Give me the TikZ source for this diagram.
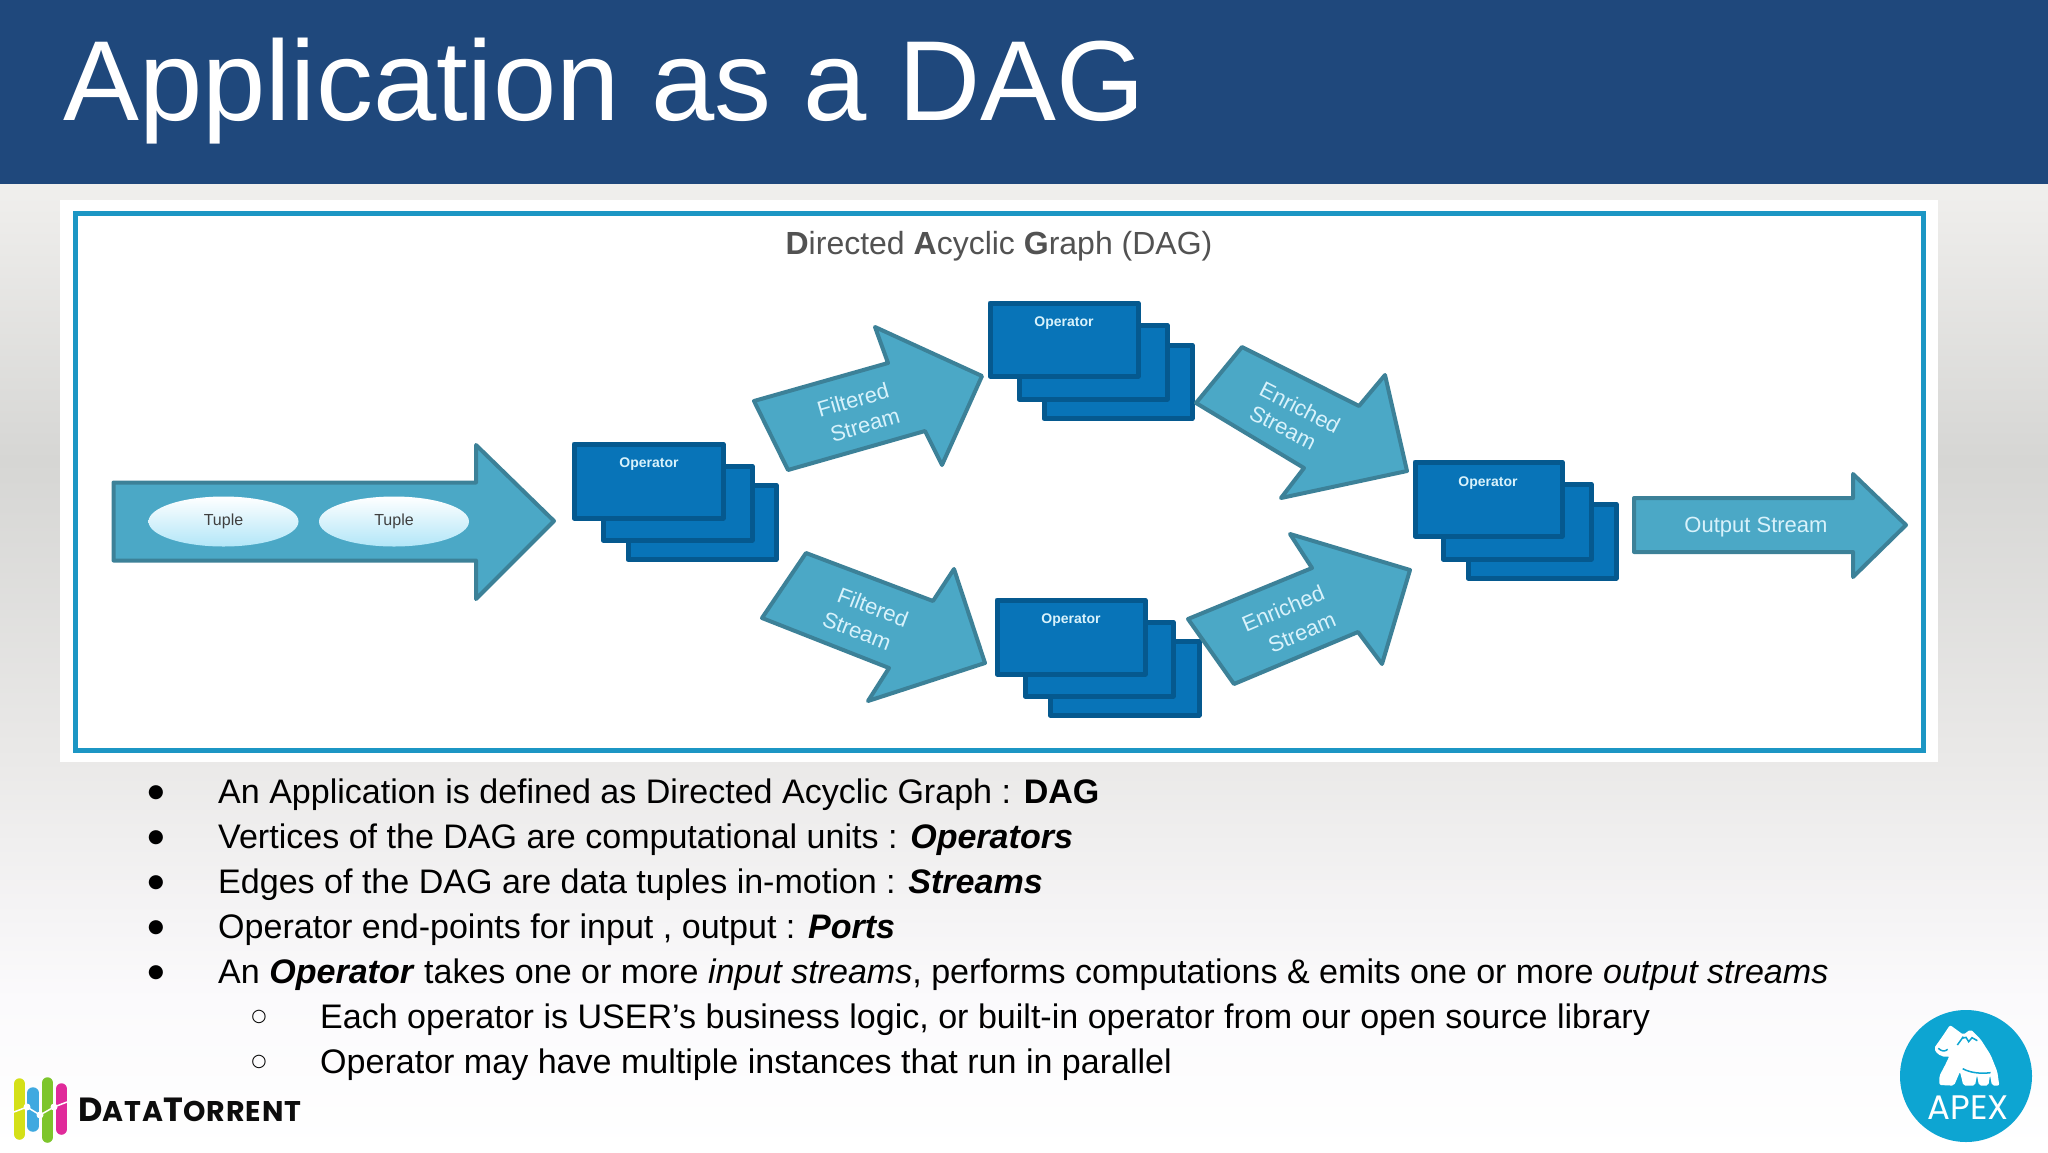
\documentclass[tikz,border=0pt]{standalone}
\usepackage{fontspec}
\setmainfont{Liberation Sans}
\newfontfamily\djv{DejaVu Sans}
\newfontfamily\pop{Poppins}
\newfontfamily\popsp[LetterSpace=3.5]{Poppins}
\usetikzlibrary{shapes.geometric}
\definecolor{hdr}{HTML}{1F487C}
\definecolor{frameblue}{HTML}{1C96C4}
\definecolor{arfill}{HTML}{4BA8C6}
\definecolor{arline}{HTML}{3C8198}
\definecolor{opfill}{HTML}{0874B8}
\definecolor{opline}{HTML}{05598F}
\definecolor{tuplelow}{HTML}{B2E6F8}
\definecolor{arlabel}{HTML}{D8F2FB}
\definecolor{apexblue}{HTML}{0DA5D2}
\definecolor{bga}{HTML}{F0EFED}
\definecolor{bgb}{HTML}{D6D6D4}
\definecolor{bgc}{HTML}{EAE9E8}
\definecolor{bgd}{HTML}{FBFAFC}
\definecolor{lgl}{HTML}{D4E018}
\definecolor{lgb}{HTML}{3FA9E0}
\definecolor{lgg}{HTML}{7DC52C}
\definecolor{lgm}{HTML}{E02A9A}
\newcommand{\fs}[1]{\fontsize{#1}{#1}\selectfont}
\tikzset{
  arrowshape/.style={fill=arfill,draw=arline,line width=4pt,line join=round},
  opbox/.style={fill=opfill,draw=opline,line width=5pt,line join=round},
  optext/.style={text=arlabel,font=\fs{14}\bfseries,inner sep=0pt},
  arrowtext/.style={text=arlabel,font=\fs{22},inner sep=0pt},
  tupleshape/.style={ellipse,minimum width=150pt,minimum height=50pt,inner sep=0pt,top color=white,bottom color=tuplelow,text=black!75,font=\fs{16}},
  bullettext/.style={anchor=base west,inner sep=0pt,text=black,font=\fs{34.05}},
  dotmark/.style={anchor=base,inner sep=0pt,text=black,font=\djv\fs{18.5}},
  ringmark/.style={anchor=base,inner sep=0pt,text=black,font=\djv\fs{17.5}},
  logobar/.style={line width=11.5pt,line cap=round},
}
\begin{document}
\begin{tikzpicture}[x=1pt,y=-1pt]
\useasboundingbox (0,0) rectangle (2048,1152);
% background
\fill[white] (0,0) rectangle (2048,1152);
\shade[top color=bga,bottom color=bgb] (0,184) rectangle (2048,460);
\shade[top color=bgb,bottom color=bgc] (0,459.5) rectangle (2048,760);
\shade[top color=bgc,bottom color=bgd] (0,759.5) rectangle (2048,1000);
\shade[top color=bgd,bottom color=white] (0,999.5) rectangle (2048,1152);
\fill[hdr] (0,0) rectangle (2048,184);
\node[anchor=base west,inner sep=0pt,text=white,font=\fs{113.8}] (title) at (63,120) {Application as a DAG};
% panel
\fill[white] (60,200) rectangle (1938,762);
\draw[frameblue,line width=5pt] (75,213) rectangle (1923,750);
\node[inner sep=0pt,text=black!68,font=\fs{32}] (dagtitle) at (999,246.5) {\textbf{D}irected \textbf{A}cyclic \textbf{G}raph (DAG)};
% input arrow
\draw[arrowshape] (113.5,482.5) -- (476,482.5) -- (476,445) -- (554,521) -- (476,599) -- (476,560.5) -- (113.5,560.5) -- cycle;
\node[tupleshape] (t1) at (223.5,521.5) {Tuple};
\node[tupleshape] (t2) at (394,521.5) {Tuple};
% operators
\draw[opbox] (628,485) rectangle (776,559.5);
\draw[opbox] (603,466) rectangle (752,540);
\draw[opbox] (574,444) rectangle (723,518);
\node[optext] (op1) at (649,464.5) {Operator};
\draw[opbox] (1044,345) rectangle (1192,418.5);
\draw[opbox] (1019,325) rectangle (1167,399);
\draw[opbox] (990,303) rectangle (1138,376);
\node[optext] (op2) at (1064,323) {Operator};
\draw[opbox] (1050,641) rectangle (1199,715);
\draw[opbox] (1025,622) rectangle (1173,696);
\draw[opbox] (997,600) rectangle (1145,674);
\node[optext] (op3) at (1071,620) {Operator};
\draw[opbox] (1468,504) rectangle (1616,578);
\draw[opbox] (1443,484) rectangle (1591,559);
\draw[opbox] (1415,462) rectangle (1562,536);
\node[optext] (op4) at (1488,483) {Operator};
% stream arrows
\draw[arrowshape] (754,401) -- (888,363) -- (875,327) -- (982,376) -- (942,465) -- (925,431) -- (788,470) -- cycle;
\node[arrowtext,rotate=16] (f1a) at (853,400) {Filtered};
\node[arrowtext,rotate=16] (f1b) at (865,425) {Stream};
\draw[arrowshape] (806,553) -- (933,601) -- (954,569) -- (985,663) -- (868,701) -- (889,668) -- (762,618) -- cycle;
\node[arrowtext,rotate=-21] (f2a) at (873,607) {Filtered};
\node[arrowtext,rotate=-21] (f2b) at (857,631) {Stream};
\draw[arrowshape] (1242,347) -- (1359,406) -- (1385,375) -- (1407,471) -- (1281,498) -- (1304,468) -- (1196,403) -- cycle;
\node[arrowtext,rotate=-27] (e1a) at (1300,407.5) {Enriched};
\node[arrowtext,rotate=-27] (e1b) at (1283,427.5) {Stream};
\draw[arrowshape] (1188,619) -- (1312,568) -- (1290,534) -- (1410,570) -- (1382,664) -- (1358,632) -- (1234,684) -- cycle;
\node[arrowtext,rotate=23] (e2a) at (1283,608.5) {Enriched};
\node[arrowtext,rotate=23] (e2b) at (1302,632.5) {Stream};
% output arrow
\draw[arrowshape] (1634,498) -- (1853,498) -- (1853,474) -- (1906,525) -- (1853,577) -- (1853,552) -- (1634,552) -- cycle;
\node[text=arlabel,font=\fs{22},inner sep=0pt] (outtxt) at (1756,527) {Output Stream};
% bullets
\node[dotmark] (ma) at (156,797) {●};
\node[dotmark] (mb) at (156,842) {●};
\node[dotmark] (mc) at (156,887) {●};
\node[dotmark] (md) at (156,932) {●};
\node[dotmark] (me) at (156,977) {●};
\node[ringmark] (mf) at (259,1021) {○};
\node[ringmark] (mg) at (259,1066) {○};
\node[bullettext] (la) at (218,803) {An Application is defined as Directed Acyclic Graph : \textbf{DAG}};
\node[bullettext] (lb) at (218,848) {Vertices of the DAG are computational units : \textbf{\itshape Operators}};
\node[bullettext] (lc) at (218,893) {Edges of the DAG are data tuples in-motion : \textbf{\itshape Streams}};
\node[bullettext] (ld) at (218,938) {Operator end-points for input , output : \textbf{\itshape Ports}};
\node[bullettext] (le) at (218,983) {An \textbf{\itshape Operator} takes one or more \textit{input streams}, performs computations \& emits one or more \textit{output streams}};
\node[bullettext] (lf) at (320,1028) {Each operator is USER’s business logic, or built-in operator from our open source library};
\node[bullettext] (lg) at (320,1073) {Operator may have multiple instances that run in parallel};
% DataTorrent logo
\draw[logobar,color=lgl] (19.5,1084) -- (19.5,1134);
\draw[logobar,color=lgb] (33,1093) -- (33,1126);
\draw[logobar,color=lgg] (47.5,1083) -- (47.5,1137);
\draw[logobar,color=lgm] (61.5,1089) -- (61.5,1129);
\draw[white,line width=1.5pt] (14,1112) -- (27,1107) -- (40,1115) -- (54,1107) -- (67,1102);
\foreach \px/\py in {27/1107,40/1115,54/1107}{\fill[white] (\px,\py) circle (3.5);}
\node[anchor=base west,inner sep=0pt,text=black!95,font=\popsp\bfseries\fs{28.5}] (dt) at (78,1121) {{\fs{33.5}D}ATA{\fs{33.5}T}ORRENT};
% Apex logo
\fill[apexblue] (1966,1076) circle (66);
\begin{scope}[shift={(1880,1000)},x=0.3333pt,y=-0.3333pt]
\fill[white,rounded corners=2pt] (210,75) -- (188,108) -- (162,145) -- (172,162) -- (196,172) -- (208,168) -- (198,190) -- (178,228) -- (178,255) -- (222,257) -- (240,215) -- (250,257) -- (285,257) -- (291,225) -- (297,257) -- (325,257) -- (330,225) -- (336,257) -- (358,257) -- (352,215) -- (332,165) -- (302,118) -- (272,88) -- (250,104) -- cycle;
\draw[apexblue,line width=1.5pt] (245,115) -- (258,112) -- (266,125) -- (276,113) -- (292,122);
\draw[apexblue,line width=1.5pt] (250,110) -- (232,135);
\draw[apexblue,line width=1.5pt] (175,145) .. controls (185,155) and (195,155) .. (203,148);
\draw[apexblue,line width=1.5pt] (248,206) .. controls (270,218) and (300,222) .. (332,218);
\end{scope}
\node[anchor=base,inner sep=0pt,text=white,font=\pop\fs{34}] (apx) at (1968,1119) {APEX};
\end{tikzpicture}
\end{document}
